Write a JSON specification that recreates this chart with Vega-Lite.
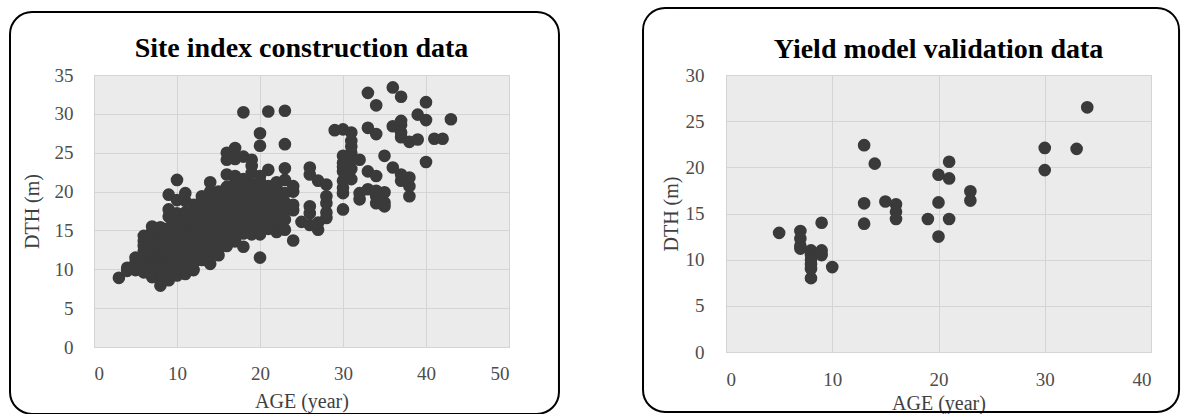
{
  "$schema": "https://vega.github.io/schema/vega-lite/v6.json",
  "padding": {"left": 8, "top": 6, "right": 0, "bottom": 0},
  "spacing": 217,
  "bounds": "flush",
  "config": {
    "font": "Liberation Serif",
    "view": {"fill": "#ebebeb", "stroke": "#d6d6d6", "strokeWidth": 1},
    "axis": {
      "grid": true,
      "gridColor": "#d4d4d4",
      "gridWidth": 1,
      "domain": false,
      "ticks": false,
      "tickSize": 0,
      "labelOverlap": false,
      "labelFont": "Liberation Serif",
      "labelFontSize": 19,
      "labelColor": "#4d4d4d",
      "titleFont": "Liberation Serif",
      "titleFontSize": 20,
      "titleFontWeight": "normal",
      "titleColor": "#404040"
    },
    "title": {"font": "Liberation Serif", "fontSize": 28, "fontWeight": "bold", "color": "#000000", "anchor": "middle", "frame": "group", "baseline": "alphabetic"}
  },
  "datasets": {
    "site": [
      {"AGE": 3, "DTH": 8.9},
      {"AGE": 4, "DTH": 10.2}, {"AGE": 4, "DTH": 9.8},
      {"AGE": 5, "DTH": 9.9}, {"AGE": 5, "DTH": 10.8}, {"AGE": 5, "DTH": 11.5},
      {"AGE": 6, "DTH": 9.6}, {"AGE": 6, "DTH": 10.3}, {"AGE": 6, "DTH": 11.0}, {"AGE": 6, "DTH": 11.8}, {"AGE": 6, "DTH": 12.4}, {"AGE": 6, "DTH": 13.0}, {"AGE": 6, "DTH": 13.6}, {"AGE": 6, "DTH": 14.3},
      {"AGE": 7, "DTH": 9.0}, {"AGE": 7, "DTH": 9.6}, {"AGE": 7, "DTH": 10.2}, {"AGE": 7, "DTH": 10.8}, {"AGE": 7, "DTH": 11.5}, {"AGE": 7, "DTH": 12.2}, {"AGE": 7, "DTH": 12.9}, {"AGE": 7, "DTH": 13.5}, {"AGE": 7, "DTH": 14.2}, {"AGE": 7, "DTH": 14.8}, {"AGE": 7, "DTH": 15.5},
      {"AGE": 8, "DTH": 7.9}, {"AGE": 8, "DTH": 8.6}, {"AGE": 8, "DTH": 9.3}, {"AGE": 8, "DTH": 10.0}, {"AGE": 8, "DTH": 10.6}, {"AGE": 8, "DTH": 11.3}, {"AGE": 8, "DTH": 12.0}, {"AGE": 8, "DTH": 12.6}, {"AGE": 8, "DTH": 13.3}, {"AGE": 8, "DTH": 14.0}, {"AGE": 8, "DTH": 14.7}, {"AGE": 8, "DTH": 15.4},
      {"AGE": 9, "DTH": 8.6}, {"AGE": 9, "DTH": 9.3}, {"AGE": 9, "DTH": 10.0}, {"AGE": 9, "DTH": 10.8}, {"AGE": 9, "DTH": 11.5}, {"AGE": 9, "DTH": 12.3}, {"AGE": 9, "DTH": 13.0}, {"AGE": 9, "DTH": 13.8}, {"AGE": 9, "DTH": 14.5}, {"AGE": 9, "DTH": 15.3}, {"AGE": 9, "DTH": 16.8}, {"AGE": 9, "DTH": 17.7}, {"AGE": 9, "DTH": 19.6},
      {"AGE": 10, "DTH": 9.2}, {"AGE": 10, "DTH": 10.0}, {"AGE": 10, "DTH": 10.9}, {"AGE": 10, "DTH": 11.7}, {"AGE": 10, "DTH": 12.5}, {"AGE": 10, "DTH": 13.3}, {"AGE": 10, "DTH": 14.2}, {"AGE": 10, "DTH": 15.0}, {"AGE": 10, "DTH": 16.0}, {"AGE": 10, "DTH": 17.2}, {"AGE": 10, "DTH": 18.9}, {"AGE": 10, "DTH": 21.5},
      {"AGE": 11, "DTH": 9.4}, {"AGE": 11, "DTH": 10.2}, {"AGE": 11, "DTH": 11.1}, {"AGE": 11, "DTH": 12.0}, {"AGE": 11, "DTH": 12.9}, {"AGE": 11, "DTH": 13.8}, {"AGE": 11, "DTH": 14.7}, {"AGE": 11, "DTH": 15.6}, {"AGE": 11, "DTH": 16.5}, {"AGE": 11, "DTH": 17.3}, {"AGE": 11, "DTH": 18.8}, {"AGE": 11, "DTH": 19.8},
      {"AGE": 12, "DTH": 9.9}, {"AGE": 12, "DTH": 10.8}, {"AGE": 12, "DTH": 12.0}, {"AGE": 12, "DTH": 13.2}, {"AGE": 12, "DTH": 14.5}, {"AGE": 12, "DTH": 15.5}, {"AGE": 12, "DTH": 16.3}, {"AGE": 12, "DTH": 17.4}, {"AGE": 12, "DTH": 18.3},
      {"AGE": 13, "DTH": 11.2}, {"AGE": 13, "DTH": 12.3}, {"AGE": 13, "DTH": 13.5}, {"AGE": 13, "DTH": 14.6}, {"AGE": 13, "DTH": 15.8}, {"AGE": 13, "DTH": 16.9}, {"AGE": 13, "DTH": 17.6}, {"AGE": 13, "DTH": 18.9}, {"AGE": 13, "DTH": 19.4},
      {"AGE": 14, "DTH": 10.7}, {"AGE": 14, "DTH": 11.6}, {"AGE": 14, "DTH": 12.4}, {"AGE": 14, "DTH": 13.4}, {"AGE": 14, "DTH": 14.5}, {"AGE": 14, "DTH": 15.6}, {"AGE": 14, "DTH": 16.7}, {"AGE": 14, "DTH": 17.8}, {"AGE": 14, "DTH": 19.0}, {"AGE": 14, "DTH": 20.0}, {"AGE": 14, "DTH": 21.2},
      {"AGE": 15, "DTH": 11.8}, {"AGE": 15, "DTH": 12.6}, {"AGE": 15, "DTH": 13.3}, {"AGE": 15, "DTH": 14.2}, {"AGE": 15, "DTH": 15.1}, {"AGE": 15, "DTH": 16.3}, {"AGE": 15, "DTH": 17.2}, {"AGE": 15, "DTH": 18.1}, {"AGE": 15, "DTH": 19.0}, {"AGE": 15, "DTH": 20.0},
      {"AGE": 16, "DTH": 13.0}, {"AGE": 16, "DTH": 14.0}, {"AGE": 16, "DTH": 14.4}, {"AGE": 16, "DTH": 15.2}, {"AGE": 16, "DTH": 16.1}, {"AGE": 16, "DTH": 17.0}, {"AGE": 16, "DTH": 18.0}, {"AGE": 16, "DTH": 18.9}, {"AGE": 16, "DTH": 19.7}, {"AGE": 16, "DTH": 20.6}, {"AGE": 16, "DTH": 22.2}, {"AGE": 16, "DTH": 24.1}, {"AGE": 16, "DTH": 25.0},
      {"AGE": 17, "DTH": 13.6}, {"AGE": 17, "DTH": 14.5}, {"AGE": 17, "DTH": 15.5}, {"AGE": 17, "DTH": 16.4}, {"AGE": 17, "DTH": 17.3}, {"AGE": 17, "DTH": 18.2}, {"AGE": 17, "DTH": 19.4}, {"AGE": 17, "DTH": 20.3}, {"AGE": 17, "DTH": 21.1}, {"AGE": 17, "DTH": 22.0}, {"AGE": 17, "DTH": 24.2}, {"AGE": 17, "DTH": 25.6},
      {"AGE": 18, "DTH": 12.9}, {"AGE": 18, "DTH": 14.6}, {"AGE": 18, "DTH": 15.4}, {"AGE": 18, "DTH": 16.3}, {"AGE": 18, "DTH": 17.2}, {"AGE": 18, "DTH": 18.1}, {"AGE": 18, "DTH": 19.0}, {"AGE": 18, "DTH": 19.8}, {"AGE": 18, "DTH": 20.7}, {"AGE": 18, "DTH": 21.6}, {"AGE": 18, "DTH": 24.5}, {"AGE": 18, "DTH": 30.2},
      {"AGE": 19, "DTH": 14.5}, {"AGE": 19, "DTH": 15.3}, {"AGE": 19, "DTH": 16.2}, {"AGE": 19, "DTH": 17.2}, {"AGE": 19, "DTH": 18.1}, {"AGE": 19, "DTH": 19.0}, {"AGE": 19, "DTH": 20.0}, {"AGE": 19, "DTH": 20.9}, {"AGE": 19, "DTH": 22.4}, {"AGE": 19, "DTH": 23.3}, {"AGE": 19, "DTH": 24.1},
      {"AGE": 20, "DTH": 11.5}, {"AGE": 20, "DTH": 14.5}, {"AGE": 20, "DTH": 15.0}, {"AGE": 20, "DTH": 15.8}, {"AGE": 20, "DTH": 16.8}, {"AGE": 20, "DTH": 17.7}, {"AGE": 20, "DTH": 18.5}, {"AGE": 20, "DTH": 19.4}, {"AGE": 20, "DTH": 20.3}, {"AGE": 20, "DTH": 21.3}, {"AGE": 20, "DTH": 22.0}, {"AGE": 20, "DTH": 25.9}, {"AGE": 20, "DTH": 27.5},
      {"AGE": 21, "DTH": 15.2}, {"AGE": 21, "DTH": 16.3}, {"AGE": 21, "DTH": 17.0}, {"AGE": 21, "DTH": 17.8}, {"AGE": 21, "DTH": 18.9}, {"AGE": 21, "DTH": 20.0}, {"AGE": 21, "DTH": 20.7}, {"AGE": 21, "DTH": 22.8}, {"AGE": 21, "DTH": 30.3},
      {"AGE": 22, "DTH": 14.8}, {"AGE": 22, "DTH": 15.8}, {"AGE": 22, "DTH": 16.3}, {"AGE": 22, "DTH": 17.4}, {"AGE": 22, "DTH": 18.6}, {"AGE": 22, "DTH": 19.5}, {"AGE": 22, "DTH": 20.5}, {"AGE": 22, "DTH": 21.2},
      {"AGE": 23, "DTH": 15.1}, {"AGE": 23, "DTH": 16.4}, {"AGE": 23, "DTH": 17.5}, {"AGE": 23, "DTH": 18.6}, {"AGE": 23, "DTH": 19.8}, {"AGE": 23, "DTH": 21.5}, {"AGE": 23, "DTH": 23.0}, {"AGE": 23, "DTH": 26.1}, {"AGE": 23, "DTH": 30.4},
      {"AGE": 24, "DTH": 13.7}, {"AGE": 24, "DTH": 17.6}, {"AGE": 24, "DTH": 18.3}, {"AGE": 24, "DTH": 20.0}, {"AGE": 24, "DTH": 20.7},
      {"AGE": 25, "DTH": 16.1},
      {"AGE": 26, "DTH": 15.7}, {"AGE": 26, "DTH": 17.2}, {"AGE": 26, "DTH": 18.1}, {"AGE": 26, "DTH": 22.2}, {"AGE": 26, "DTH": 23.1},
      {"AGE": 27, "DTH": 15.1}, {"AGE": 27, "DTH": 16.0}, {"AGE": 27, "DTH": 21.4},
      {"AGE": 28, "DTH": 16.6}, {"AGE": 28, "DTH": 17.3}, {"AGE": 28, "DTH": 18.5}, {"AGE": 28, "DTH": 19.4}, {"AGE": 28, "DTH": 20.9},
      {"AGE": 29, "DTH": 27.9},
      {"AGE": 30, "DTH": 17.7}, {"AGE": 30, "DTH": 19.8}, {"AGE": 30, "DTH": 20.5}, {"AGE": 30, "DTH": 21.4}, {"AGE": 30, "DTH": 22.6}, {"AGE": 30, "DTH": 23.2}, {"AGE": 30, "DTH": 23.7}, {"AGE": 30, "DTH": 24.6}, {"AGE": 30, "DTH": 28.0},
      {"AGE": 31, "DTH": 21.6}, {"AGE": 31, "DTH": 22.9}, {"AGE": 31, "DTH": 24.1}, {"AGE": 31, "DTH": 25.0}, {"AGE": 31, "DTH": 25.8}, {"AGE": 31, "DTH": 26.5}, {"AGE": 31, "DTH": 27.6},
      {"AGE": 32, "DTH": 19.0}, {"AGE": 32, "DTH": 19.8}, {"AGE": 32, "DTH": 24.1},
      {"AGE": 33, "DTH": 20.3}, {"AGE": 33, "DTH": 22.6}, {"AGE": 33, "DTH": 28.2}, {"AGE": 33, "DTH": 32.7},
      {"AGE": 34, "DTH": 18.5}, {"AGE": 34, "DTH": 19.4}, {"AGE": 34, "DTH": 20.1}, {"AGE": 34, "DTH": 22.0}, {"AGE": 34, "DTH": 27.4}, {"AGE": 34, "DTH": 31.1},
      {"AGE": 35, "DTH": 18.1}, {"AGE": 35, "DTH": 18.6}, {"AGE": 35, "DTH": 19.9}, {"AGE": 35, "DTH": 24.6},
      {"AGE": 36, "DTH": 23.1}, {"AGE": 36, "DTH": 28.4}, {"AGE": 36, "DTH": 33.4},
      {"AGE": 37, "DTH": 21.4}, {"AGE": 37, "DTH": 22.2}, {"AGE": 37, "DTH": 27.0}, {"AGE": 37, "DTH": 27.6}, {"AGE": 37, "DTH": 28.6}, {"AGE": 37, "DTH": 29.1}, {"AGE": 37, "DTH": 32.2},
      {"AGE": 38, "DTH": 19.4}, {"AGE": 38, "DTH": 20.7}, {"AGE": 38, "DTH": 21.8}, {"AGE": 38, "DTH": 26.4},
      {"AGE": 39, "DTH": 26.7}, {"AGE": 39, "DTH": 29.9},
      {"AGE": 40, "DTH": 23.8}, {"AGE": 40, "DTH": 29.2}, {"AGE": 40, "DTH": 31.5},
      {"AGE": 41, "DTH": 26.8},
      {"AGE": 42, "DTH": 26.8},
      {"AGE": 43, "DTH": 29.3}
    ],
    "yield": [
      {"AGE": 5, "DTH": 12.9},
      {"AGE": 7, "DTH": 13.1}, {"AGE": 7, "DTH": 12.3}, {"AGE": 7, "DTH": 11.5}, {"AGE": 7, "DTH": 11.2},
      {"AGE": 8, "DTH": 11.0}, {"AGE": 8, "DTH": 10.5}, {"AGE": 8, "DTH": 10.0}, {"AGE": 8, "DTH": 9.5}, {"AGE": 8, "DTH": 9.0}, {"AGE": 8, "DTH": 8.0},
      {"AGE": 9, "DTH": 14.0}, {"AGE": 9, "DTH": 11.0}, {"AGE": 9, "DTH": 10.5},
      {"AGE": 10, "DTH": 9.2},
      {"AGE": 13, "DTH": 22.4}, {"AGE": 13, "DTH": 16.1}, {"AGE": 13, "DTH": 13.9},
      {"AGE": 14, "DTH": 20.4},
      {"AGE": 15, "DTH": 16.3},
      {"AGE": 16, "DTH": 16.0}, {"AGE": 16, "DTH": 15.2}, {"AGE": 16, "DTH": 14.4},
      {"AGE": 19, "DTH": 14.4},
      {"AGE": 20, "DTH": 19.2}, {"AGE": 20, "DTH": 16.2}, {"AGE": 20, "DTH": 12.5},
      {"AGE": 21, "DTH": 20.6}, {"AGE": 21, "DTH": 18.8}, {"AGE": 21, "DTH": 14.4},
      {"AGE": 23, "DTH": 17.4}, {"AGE": 23, "DTH": 16.4},
      {"AGE": 30, "DTH": 22.1}, {"AGE": 30, "DTH": 19.7},
      {"AGE": 33, "DTH": 22.0},
      {"AGE": 34, "DTH": 26.5}
    ]
  },
  "hconcat": [
    {
      "width": 415,
      "height": 272,
      "title": {"text": "Site index construction data", "offset": -52},
      "layer": [
        {
          "data": {"name": "site"},
          "mark": {"type": "circle", "size": 160, "color": "#3a3a3a", "opacity": 1},
          "encoding": {
            "x": {"field": "AGE", "type": "quantitative", "scale": {"domain": [0, 50], "nice": false},
                  "axis": {"title": "AGE (year)", "values": [0, 10, 20, 30, 40, 50], "labelPadding": 17, "titlePadding": 8}},
            "y": {"field": "DTH", "type": "quantitative", "scale": {"domain": [0, 35], "nice": false},
                  "axis": {"title": "DTH (m)", "values": [0, 5, 10, 15, 20, 25, 30, 35], "labelPadding": 21, "titlePadding": 12}}
          }
        },
        {
          "data": {"values": [{}]},
          "mark": {"type": "rect", "fill": "transparent", "stroke": "#000000", "strokeWidth": 2, "cornerRadius": 22},
          "encoding": {
            "x": {"datum": -10.12, "type": "quantitative",
                  "axis": {"title": "AGE (year)", "values": [0, 10, 20, 30, 40, 50], "labelPadding": 17, "titlePadding": 8}},
            "x2": {"datum": 56.02},
            "y": {"datum": 43.11, "type": "quantitative",
                  "axis": {"title": "DTH (m)", "values": [0, 5, 10, 15, 20, 25, 30, 35], "labelPadding": 21, "titlePadding": 12}},
            "y2": {"datum": -8.62}
          }
        }
      ]
    },
    {
      "width": 425,
      "height": 277,
      "title": {"text": "Yield model validation data", "offset": -57},
      "layer": [
        {
          "data": {"name": "yield"},
          "mark": {"type": "circle", "size": 160, "color": "#3a3a3a", "opacity": 1},
          "encoding": {
            "x": {"field": "AGE", "type": "quantitative", "scale": {"domain": [0, 40], "nice": false},
                  "axis": {"title": "AGE (year)", "values": [0, 10, 20, 30, 40], "labelPadding": 18, "titlePadding": 4}},
            "y": {"field": "DTH", "type": "quantitative", "scale": {"domain": [0, 30], "nice": false},
                  "axis": {"title": "DTH (m)", "values": [0, 5, 10, 15, 20, 25, 30], "labelPadding": 22, "titlePadding": 4}}
          }
        },
        {
          "data": {"values": [{}]},
          "mark": {"type": "rect", "fill": "transparent", "stroke": "#000000", "strokeWidth": 2, "cornerRadius": 22},
          "encoding": {
            "x": {"datum": -7.81, "type": "quantitative",
                  "axis": {"title": "AGE (year)", "values": [0, 10, 20, 30, 40], "labelPadding": 18, "titlePadding": 4}},
            "x2": {"datum": 42.64},
            "y": {"datum": 37.26, "type": "quantitative",
                  "axis": {"title": "DTH (m)", "values": [0, 5, 10, 15, 20, 25, 30], "labelPadding": 22, "titlePadding": 4}},
            "y2": {"datum": -6.5}
          }
        }
      ]
    }
  ]
}
